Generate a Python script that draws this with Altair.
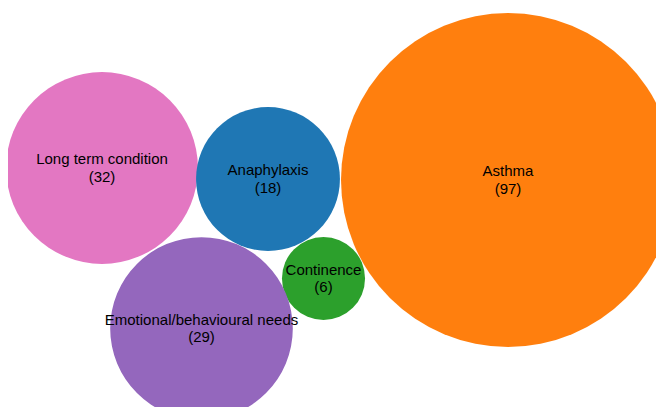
import altair as alt
import pandas as pd

names = ["Asthma", "Long term condition", "Anaphylaxis", "Continence", "Emotional/behavioural needs"]
counts = [97, 32, 18, 6, 29]
colors = ["#ff7f0e", "#e377c2", "#1f77b4", "#2ca02c", "#9467bd"]
# bubble layout centres (page pixel units, as read from the packed layout)
cx = [508, 102, 268, 323.5, 201.5]
cy = [180, 168, 179, 278.5, 328.5]

df = pd.DataFrame({"name": names, "count": counts, "cx": cx, "cy": cy})

W, H = 648, 399
k = 167 / (97 ** 0.5)  # radius per sqrt(count)
smax = (2 * k * (97 ** 0.5)) ** 2

xs = alt.Scale(domain=[8, 8 + W])
ys = alt.Scale(domain=[8, 8 + H], reverse=True)

base = alt.Chart(df).encode(
    x=alt.X("cx:Q", scale=xs, axis=None),
    y=alt.Y("cy:Q", scale=ys, axis=None),
)

circles = base.mark_circle(opacity=1).encode(
    size=alt.Size("count:Q", scale=alt.Scale(domain=[0, 97], range=[0, smax], zero=True), legend=None),
    color=alt.Color("name:N", scale=alt.Scale(domain=names, range=colors), legend=None),
)

labels = base.transform_calculate(
    label="datum.name + '\\n(' + datum.count + ')'"
).mark_text(
    font="Liberation Sans", fontSize=15, color="#000000", lineBreak="\n", lineHeight=17.5,
    align="center", baseline="middle", dy=-9
).encode(text="label:N")

chart = alt.layer(circles, labels).properties(
    width=W, height=H, padding=0, autosize=alt.AutoSizeParams(type="none")
).configure_view(stroke=None)

chart.save("out.html", embed_options={"renderer": "svg", "actions": False})
